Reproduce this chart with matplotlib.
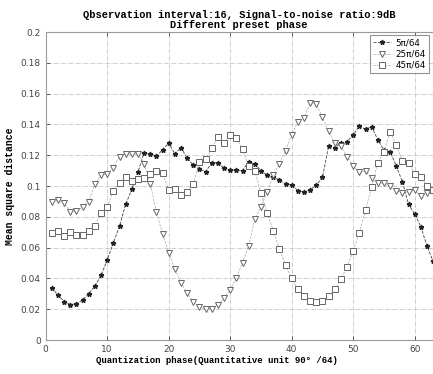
import numpy as np
import matplotlib
matplotlib.use("Agg")
from matplotlib import pyplot as plt

## Données

x = list(range(1, 64))

s5 = [0.034, 0.029, 0.025, 0.023, 0.0236, 0.026, 0.030, 0.035, 0.042, 0.052,
      0.063, 0.074, 0.088, 0.098, 0.109, 0.1216, 0.1208, 0.1195, 0.1234, 0.128,
      0.1208, 0.125, 0.118, 0.1136, 0.1108, 0.1093, 0.1151, 0.1151, 0.1115, 0.1104,
      0.1104, 0.110, 0.1158, 0.1143, 0.110, 0.107, 0.1056, 0.104, 0.1013, 0.1006,
      0.097, 0.0963, 0.0974, 0.1006, 0.1056, 0.126, 0.125, 0.128, 0.1288, 0.133,
      0.139, 0.1368, 0.1385, 0.130, 0.1234, 0.1223, 0.113, 0.1028, 0.088, 0.0818,
      0.0736, 0.061, 0.051]

s25 = [0.0898, 0.0909, 0.0887, 0.0833, 0.0838, 0.0862, 0.0898, 0.1013, 0.107, 0.1078,
       0.112, 0.119, 0.1208, 0.1208, 0.1208, 0.1145, 0.1013, 0.0833, 0.069, 0.0567,
       0.0462, 0.037, 0.0303, 0.0249, 0.0216, 0.020, 0.0203, 0.023, 0.027, 0.0327,
       0.0405, 0.0502, 0.0612, 0.0784, 0.0866, 0.0963, 0.1071, 0.1143, 0.123, 0.1331,
       0.1418, 0.144, 0.1541, 0.153, 0.1446, 0.1356, 0.1277, 0.126, 0.119, 0.113,
       0.109, 0.1096, 0.1053, 0.1021, 0.1017, 0.0999, 0.097, 0.0952, 0.0959, 0.0974,
       0.0935, 0.0952, 0.097]

s45 = [0.0697, 0.071, 0.0675, 0.0703, 0.0682, 0.0682, 0.071, 0.074, 0.0827, 0.0862,
       0.097, 0.1017, 0.1056, 0.1034, 0.1043, 0.105, 0.1078, 0.110, 0.1082, 0.0974,
       0.0978, 0.0942, 0.0963, 0.1013, 0.1158, 0.1173, 0.1245, 0.1316, 0.128, 0.1331,
       0.131, 0.124, 0.1128, 0.110, 0.0952, 0.0827, 0.071, 0.0589, 0.0487, 0.040,
       0.0329, 0.0286, 0.0255, 0.0245, 0.0255, 0.0286, 0.0329, 0.0394, 0.0476, 0.0578,
       0.0697, 0.0842, 0.0996, 0.1151, 0.1223, 0.1353, 0.1266, 0.1164, 0.1151, 0.1078,
       0.106, 0.100, 0.0974]

labels = ['5\u03c0/64', '25\u03c0/64', '45\u03c0/64']
xticks = [0, 10, 20, 30, 40, 50, 60]
yticks = [0, 0.02, 0.04, 0.06, 0.08, 0.1, 0.12, 0.14, 0.16, 0.18, 0.2]
ytlab = ['0', '0.02', '0.04', '0.06', '0.08', '0.1', '0.12', '0.14', '0.16', '0.18', '0.2']

## Figure

fig = plt.figure(figsize=(4.33, 3.74), dpi=100)
ax = fig.add_axes([45.7/433, 34/374, 6.15*64/433, 308/374])

ax.plot(x, s5, linestyle='--', linewidth=0.6, color='#444444', marker='*',
        markersize=3.5, markerfacecolor='#222222', markeredgecolor='#222222', label=labels[0])
ax.plot(x, s25, linestyle='--', linewidth=0.5, color='#aaaaaa', marker='v',
        markersize=4.2, markerfacecolor='white', markeredgecolor='#666666',
        markeredgewidth=0.7, label=labels[1])
ax.plot(x, s45, linestyle='--', linewidth=0.5, color='#aaaaaa', marker='s',
        markersize=3.8, markerfacecolor='white', markeredgecolor='#666666',
        markeredgewidth=0.7, label=labels[2])

ax.set_xlim(0, 64)
ax.set_ylim(0, 0.2)
ax.set_xticks(xticks)
ax.set_yticks(yticks)
ax.set_yticklabels(ytlab)
ax.grid(True, linestyle='-.', linewidth=0.5, color='#bbbbbb')
ax.tick_params(direction='in', top=True, right=True, labelsize=6.5, colors='#444444',
               length=3, width=0.6)
for sp in ax.spines.values():
    sp.set_color('#999999')
    sp.set_linewidth(0.8)

mono = 'Liberation Mono'
ax.set_title('Qbservation interval:16, Signal-to-noise ratio:9dB\nDifferent preset phase',
             fontsize=7.5, fontweight='bold', family=mono, pad=3, linespacing=1.0,
             x=(239 - 45.7) / (6.15*64))
ax.set_xlabel('Quantization phase(Quantitative unit 90\u00b0 /64)', fontsize=6.5,
              fontweight='bold', family=mono)
ax.xaxis.set_label_coords((217 - 45.7) / (6.15*64), -16/308)
ax.set_ylabel('Mean square distance', fontsize=7, fontweight='bold', family=mono, labelpad=4)

leg = ax.legend(loc='upper right', bbox_to_anchor=(433/433, 1 - 31/374),
                bbox_transform=fig.transFigure, fontsize=6.3, frameon=True,
                fancybox=False, edgecolor='#777777', handlelength=2.0,
                borderpad=0.35, labelspacing=0.25, handletextpad=0.5)
leg.get_frame().set_linewidth(0.8)

plt.savefig('out.png', dpi=100)
